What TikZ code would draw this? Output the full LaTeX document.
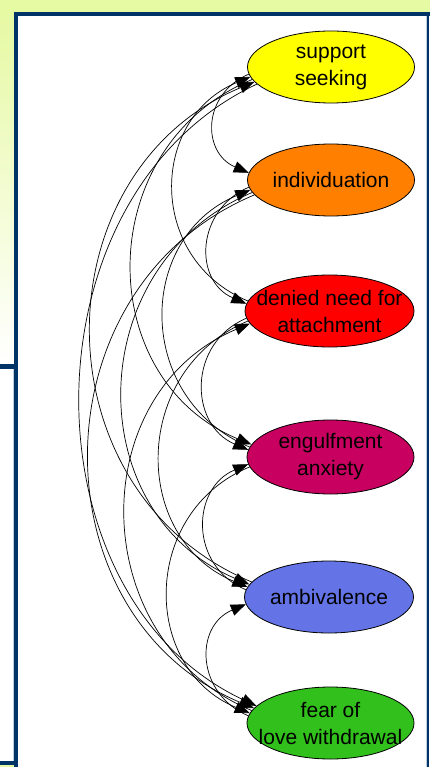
\documentclass[tikz,border=0pt]{standalone}
\usepackage{fontspec}
\setmainfont{Liberation Sans}
\usetikzlibrary{shapes.geometric,arrows.meta}
\definecolor{navy}{RGB}{0,51,102}
\definecolor{lime}{RGB}{230,249,163}
\definecolor{paleblue}{RGB}{190,205,225}
\definecolor{cSupport}{RGB}{255,255,0}
\definecolor{cIndiv}{RGB}{255,128,0}
\definecolor{cDenied}{RGB}{255,0,0}
\definecolor{cEngulf}{RGB}{200,0,95}
\definecolor{cAmbi}{RGB}{100,116,230}
\definecolor{cFear}{RGB}{50,192,28}
\begin{document}
\begin{tikzpicture}[x=1pt,y=-1pt,
  blob/.style={ellipse, draw=black, line width=0.8pt, minimum width=167pt, minimum height=72pt, inner sep=0pt},
  lbl/.style={align=center, font=\fontsize{21}{27}\selectfont, inner sep=0pt, text=black},
  edge/.style={draw=black, line width=0.7pt},
  fw/.style={edge, -{Triangle[length=15pt,width=11.5pt]}},
  bw/.style={edge, {Triangle[length=15pt,width=11.5pt]}-}]
\useasboundingbox (0,0) rectangle (430,767);
% background frame
\fill[lime] (0,0) rectangle (430,12);
\shade[top color=lime, bottom color=white] (0,12) rectangle (14,364);
\fill[white] (0,369) rectangle (14,761);
\draw[paleblue, line width=0.8pt] (13,369) -- (13,761);
\fill[lime] (0,765) rectangle (14,767);
\fill[white] (18,16) rectangle (430,767);
\fill[navy] (14,12) rectangle (430,16);
\fill[navy] (14,12) rectangle (18,767);
\fill[navy] (0,364) rectangle (14,369);
\fill[navy] (0,761) rectangle (14,765);
\draw[paleblue, line width=0.6pt] (425.8,16) -- (425.8,767);
\fill[navy] (427,16) rectangle (428.8,767);
% nodes
\node[blob, fill=cSupport] (a1) at (331,67) {};
\node[blob, fill=cIndiv] (a2) at (331,180) {};
\node[blob, fill=cDenied, minimum width=169pt] (a3) at (329.5,311) {};
\node[blob, fill=cEngulf, minimum height=74pt] (a4) at (330.5,457) {};
\node[blob, fill=cAmbi, minimum width=169pt] (a5) at (329,597) {};
\node[blob, fill=cFear] (a6) at (330.5,723) {};
% edges
\draw[fw] (a1.185) .. controls +(-47,20) and +(-47,-20) .. (a2.175);
\draw[bw] (a1.187) .. controls +(-101,42) and +(-101,-42) .. (a3.173);
\draw[fw] (a1.189) .. controls +(-160,66) and +(-160,-66) .. (a4.171);
\draw[bw] (a1.191) .. controls +(-216,90) and +(-216,-90) .. (a5.169);
\draw[fw] (a1.193) .. controls +(-235,110) and +(-235,-110) .. (a6.167);
\draw[fw] (a2.185) .. controls +(-53,23) and +(-53,-23) .. (a3.175);
\draw[bw] (a2.187) .. controls +(-115,48) and +(-115,-48) .. (a4.173);
\draw[fw] (a2.189) .. controls +(-171,72) and +(-171,-72) .. (a5.171);
\draw[fw] (a2.191) .. controls +(-220,92) and +(-220,-92) .. (a6.169);
\draw[fw] (a3.185) .. controls +(-59,25) and +(-59,-25) .. (a4.175);
\draw[fw] (a3.187) .. controls +(-117,49) and +(-117,-49) .. (a5.173);
\draw[bw] (a3.189) .. controls +(-167,70) and +(-167,-70) .. (a6.171);
\draw[bw] (a4.185) .. controls +(-57,24) and +(-57,-24) .. (a5.175);
\draw[fw] (a4.187) .. controls +(-109,45) and +(-109,-45) .. (a6.173);
\draw[bw] (a5.185) .. controls +(-52,22) and +(-52,-22) .. (a6.175);
% labels
\node[lbl] (t1) at (a1) {support\\seeking};
\node[lbl] (t2) at (a2) {individuation};
\node[lbl] (t3) at (a3) {denied need for\\attachment};
\node[lbl] (t4) at (a4) {engulfment\\anxiety};
\node[lbl] (t5) at (a5) {ambivalence};
\node[lbl] (t6) at (a6) {fear of\\love withdrawal};
\end{tikzpicture}
\end{document}
